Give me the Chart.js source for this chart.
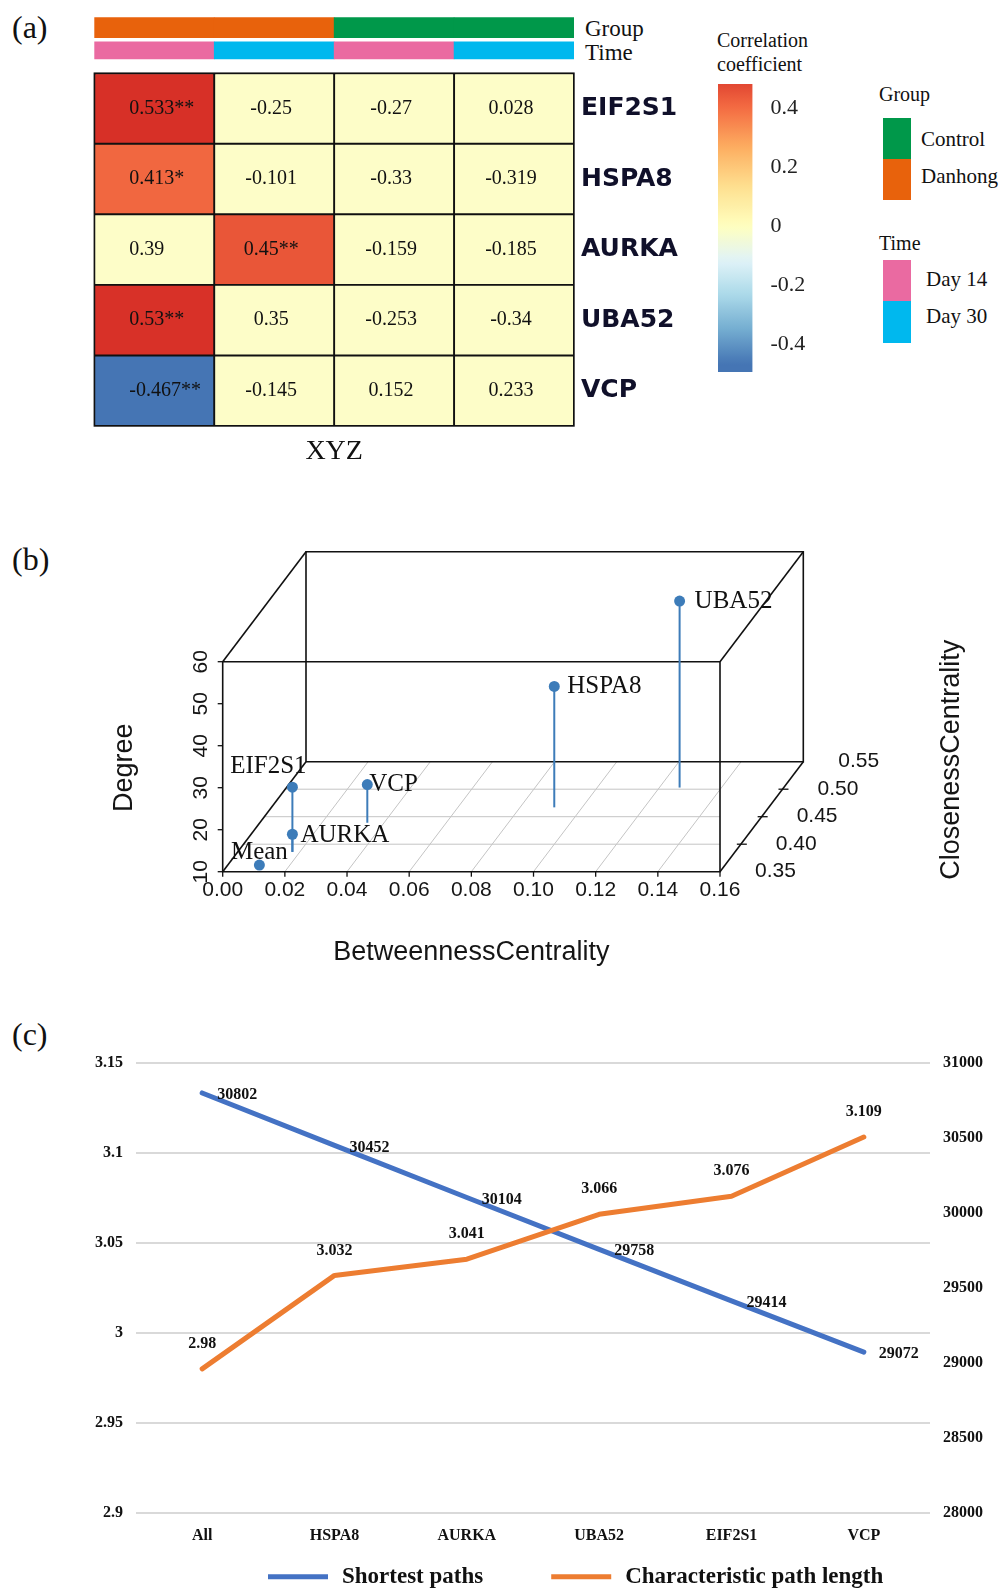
<!DOCTYPE html>
<html>
<head>
<meta charset="utf-8">
<title>Hub genes: correlation, centrality and path length</title>
<script src="https://cdn.jsdelivr.net/npm/chart.js@4.4.1/dist/chart.umd.min.js"></script>
<style>
  html, body { margin: 0; padding: 0; background: #fff; }
  #page { position: relative; width: 1002px; height: 1591px; overflow: hidden; }
  canvas { position: absolute; }
  .t { position: absolute; white-space: nowrap; line-height: 1; color: #111;
       font-family: "Liberation Serif", "Times New Roman", serif; transform: translateY(-50%); }
  .sw { position: absolute; }
</style>
</head>
<body>
<div id="page">
  <div class="t" style="left:12px;top:27px;font-size:32px">(a)</div>
  <div class="t" style="left:12px;top:559px;font-size:32px">(b)</div>
  <div class="t" style="left:12px;top:1034px;font-size:32px">(c)</div>

  <div class="t" style="left:585px;top:28px;font-size:23px">Group</div>
  <div class="t" style="left:585px;top:52px;font-size:23px">Time</div>

  <div class="t" style="left:717px;top:40px;font-size:20px">Correlation</div>
  <div class="t" style="left:717px;top:64px;font-size:20px">coefficient</div>

  <div class="t" style="left:879px;top:94px;font-size:20px">Group</div>
  <div class="sw" style="left:883px;top:118px;width:28px;height:41px;background:#00984a"></div>
  <div class="sw" style="left:883px;top:159px;width:28px;height:41px;background:#e8620c"></div>
  <div class="t" style="left:921px;top:139px;font-size:21px">Control</div>
  <div class="t" style="left:921px;top:176px;font-size:21px">Danhong</div>
  <div class="t" style="left:879px;top:243px;font-size:20px">Time</div>
  <div class="sw" style="left:883px;top:260px;width:28px;height:41px;background:#ea6aa1"></div>
  <div class="sw" style="left:883px;top:301px;width:28px;height:42px;background:#00b8ee"></div>
  <div class="t" style="left:926px;top:279px;font-size:21px">Day 14</div>
  <div class="t" style="left:926px;top:316px;font-size:21px">Day 30</div>

  <canvas id="heat" width="700" height="470" style="left:0;top:0"></canvas>
  <canvas id="cbar" width="110" height="320" style="left:700px;top:70px"></canvas>
  <canvas id="net3d" width="1002" height="440" style="left:0;top:530px"></canvas>
  <canvas id="paths" width="1002" height="561" style="left:0;top:1030px"></canvas>
</div>

<script>
// ---------- data ----------
// (a) correlation of hub genes with XYZ, per group x time column
const hmGenes = ['EIF2S1', 'HSPA8', 'AURKA', 'UBA52', 'VCP'];
const hmGroup = ['Danhong', 'Danhong', 'Control', 'Control'];
const hmTime = ['Day 14', 'Day 30', 'Day 14', 'Day 30'];
const hmCorr = [
  [0.533, -0.25, -0.27, 0.028],
  [0.413, -0.101, -0.33, -0.319],
  [0.39, 0.45, -0.159, -0.185],
  [0.53, 0.35, -0.253, -0.34],
  [-0.467, -0.145, 0.152, 0.233]
];
const hmStars = [
  ['**', '', '', ''],
  ['*', '', '', ''],
  ['', '**', '', ''],
  ['**', '', '', ''],
  ['**', '', '', '']
];
const cbTicks = [0.4, 0.2, 0, -0.2, -0.4];

// (b) network centrality
const netGenes = ['Mean', 'EIF2S1', 'AURKA', 'VCP', 'HSPA8', 'UBA52'];
const netBetween = [0.011, 0.0176, 0.0176, 0.0346, 0.091, 0.1265];
const netClose = [0.356, 0.386, 0.386, 0.439, 0.467, 0.503];
const netDegree = [10.8, 25.4, 14.2, 19.1, 38.8, 54.4];
const betweenTicks = [0, 0.02, 0.04, 0.06, 0.08, 0.10, 0.12, 0.14, 0.16];
const closeTicks = [0.35, 0.40, 0.45, 0.50, 0.55];
const degreeTicks = [10, 20, 30, 40, 50, 60];

// (c) shortest paths / characteristic path length after removing each gene
const pathCats = ['All', 'HSPA8', 'AURKA', 'UBA52', 'EIF2S1', 'VCP'];
const shortestPaths = [30802, 30452, 30104, 29758, 29414, 29072];
const charPathLen = [2.98, 3.032, 3.041, 3.066, 3.076, 3.109];
const leftTicks = [2.9, 2.95, 3, 3.05, 3.1, 3.15];
const rightTicks = [28000, 28500, 29000, 29500, 30000, 30500, 31000];

// ---------- styles ----------
const SERIF = '"Liberation Serif", "Times New Roman", serif';
const SANS = '"Liberation Sans", Arial, sans-serif';
Chart.defaults.color = '#111';
Chart.defaults.animation = false;

const groupColors = { Danhong: '#e8620c', Control: '#00984a' };
const timeColors = { 'Day 14': '#ea6aa1', 'Day 30': '#00b8ee' };
const PALE = '#fdfdc8';
const rdylbu = ['#4575b4', '#74add1', '#abd9e9', '#e0f3f8', '#ffffbf', '#fee090', '#fdae61', '#f46d43', '#d73027'];

function hex2rgb(h) { return [1, 3, 5].map(i => parseInt(h.substr(i, 2), 16)); }
function mix(a, b, f) {
  const A = hex2rgb(a), B = hex2rgb(b);
  return 'rgb(' + A.map((v, i) => Math.round(v + (B[i] - v) * f)).join(',') + ')';
}
const allCorr = hmCorr.flat();
const corrMin = Math.min(...allCorr), corrMax = Math.max(...allCorr);
function corrColor(v) {
  // zero in the middle, each half stretched to the data extreme
  const p = v >= 0 ? 0.5 + 0.5 * Math.min(v / corrMax, 1) : 0.5 - 0.5 * Math.min(v / corrMin, 1);
  const f = p * (rdylbu.length - 1);
  const i = Math.min(Math.floor(f), rdylbu.length - 2);
  return mix(rdylbu[i], rdylbu[i + 1], f - i);
}
// keep the chart area where the layout padding puts it
const noEdgePad = s => { s.paddingTop = 0; s.paddingBottom = 0; };

// ===== (a) HEATMAP =====
const GROUP_BAND = [-0.793, -0.503];   // annotation strips above the rows (row units)
const TIME_BAND = [-0.445, -0.201];

const cellText = {
  id: 'cellText',
  afterDatasetsDraw(chart) {
    const ctx = chart.ctx;
    ctx.save();
    ctx.font = '20px ' + SERIF;
    ctx.fillStyle = '#111';
    ctx.textBaseline = 'middle';
    hmGenes.forEach((g, r) => {
      chart.getDatasetMeta(r + 2).data.forEach((bar, c) => {
        const txt = String(hmCorr[r][c]) + hmStars[r][c];
        const y = (bar.y + bar.base) / 2;
        if (c === 0) { ctx.textAlign = 'left'; ctx.fillText(txt, bar.x - bar.width / 2 + 35, y); }
        else { ctx.textAlign = 'center'; ctx.fillText(txt, bar.x - 3, y); }
      });
    });
    // outer frame
    const top = chart.getDatasetMeta(2).data[0], bot = chart.getDatasetMeta(hmGenes.length + 1).data[0];
    const a = chart.chartArea;
    ctx.lineWidth = 1.4;
    ctx.strokeStyle = '#111';
    ctx.strokeRect(a.left, Math.min(top.y, top.base), a.right - a.left, Math.max(bot.y, bot.base) - Math.min(top.y, top.base));
    ctx.restore();
  }
};

new Chart(document.getElementById('heat'), {
  type: 'bar',
  data: {
    labels: hmGroup.map((g, i) => g + ' ' + hmTime[i]),
    datasets: [
      { label: 'Group', data: hmGroup.map(() => GROUP_BAND), backgroundColor: hmGroup.map(g => groupColors[g]), borderWidth: 0 },
      { label: 'Time', data: hmTime.map(() => TIME_BAND), backgroundColor: hmTime.map(t => timeColors[t]), borderWidth: 0 },
      ...hmGenes.map((g, r) => ({
        label: g,
        data: hmCorr[r].map(() => [r, r + 1]),
        backgroundColor: hmCorr[r].map((v, c) => hmStars[r][c] ? corrColor(v) : PALE),
        borderColor: '#111', borderWidth: 1.3, borderSkipped: false
      }))
    ]
  },
  options: {
    responsive: false, devicePixelRatio: 1,
    datasets: { bar: { grouped: false, barPercentage: 1, categoryPercentage: 1 } },
    layout: { padding: { left: 94.3, top: 17.2, right: 0, bottom: 0 } },
    plugins: { legend: { display: false }, tooltip: { enabled: false } },
    scales: {
      x: {
        grid: { display: false }, border: { display: false }, ticks: { display: false },
        title: { display: true, text: 'XYZ', font: { family: SERIF, size: 28 }, color: '#111', padding: { top: 0, bottom: 2 } },
        afterFit: s => { s.height = 44; s.paddingLeft = 0; s.paddingRight = 0; }
      },
      y: {
        type: 'linear', min: GROUP_BAND[0], max: hmGenes.length, reverse: true, position: 'right',
        grid: { display: false, drawTicks: false }, border: { display: false },
        afterBuildTicks: s => { s.ticks = hmGenes.map((g, i) => ({ value: i + 0.5 })); },
        ticks: { autoSkip: false, padding: 7, color: '#10102a', font: { family: '"DejaVu Sans", sans-serif', size: 25, weight: 'bold' },
                 callback: (v, i) => hmGenes[i] },
        afterFit: s => { s.width = 126; noEdgePad(s); }
      }
    }
  },
  plugins: [cellText]
});

// ===== (a) COLOUR BAR =====
const CB_RANGE = [-0.495, 0.483];
new Chart(document.getElementById('cbar'), {
  type: 'bar',
  data: {
    labels: ['r'],
    datasets: [{
      data: [CB_RANGE],
      borderWidth: 0,
      backgroundColor: ctx => {
        const chart = ctx.chart;
        if (!chart.chartArea) return PALE;
        const ys = chart.scales.y;
        const g = chart.ctx.createLinearGradient(0, ys.getPixelForValue(CB_RANGE[0]), 0, ys.getPixelForValue(CB_RANGE[1]));
        for (let k = 0; k <= 40; k++) {
          g.addColorStop(k / 40, corrColor(CB_RANGE[0] + (CB_RANGE[1] - CB_RANGE[0]) * k / 40));
        }
        return g;
      }
    }]
  },
  options: {
    responsive: false, devicePixelRatio: 1,
    datasets: { bar: { barPercentage: 1, categoryPercentage: 1 } },
    layout: { padding: { left: 18, top: 14, bottom: 18, right: 0 } },
    plugins: { legend: { display: false }, tooltip: { enabled: false } },
    scales: {
      x: { display: false },
      y: {
        min: CB_RANGE[0], max: CB_RANGE[1], position: 'right',
        grid: { display: false, drawTicks: false }, border: { display: false },
        afterBuildTicks: s => { s.ticks = cbTicks.map(v => ({ value: v })); },
        ticks: { padding: 18, color: '#222', font: { family: SERIF, size: 22 }, callback: v => String(+v.toFixed(1)) },
        afterFit: s => { s.width = 57.5; noEdgePad(s); }
      }
    }
  }
});

// ===== (b) 3-D SCATTER (oblique projection) =====
const KX = 0.1675, KY = 0.5238;   // depth shift of the closeness axis, in box units
const bLo = betweenTicks[0], bHi = betweenTicks[betweenTicks.length - 1];
const cLo = closeTicks[0], cHi = closeTicks[closeTicks.length - 1];
const dLo = degreeTicks[0], dHi = degreeTicks[degreeTicks.length - 1];
function proj(b, c, d) {
  const t = (c - cLo) / (cHi - cLo);
  return { x: (b - bLo) / (bHi - bLo) + t * KX, y: (d - dLo) / (dHi - dLo) + t * KY };
}
const STEEL = '#3d7cb9';
const labelPos = {   // name label offset from its point
  Mean: { dx: 0, dy: -13, align: 'center' },
  EIF2S1: { dx: -24, dy: -21, align: 'center' },
  AURKA: { dx: 8, dy: 1, align: 'left' },
  VCP: { dx: 2, dy: 0, align: 'left' },
  HSPA8: { dx: 13, dy: 0, align: 'left' },
  UBA52: { dx: 15, dy: 0, align: 'left' }
};

const box3d = {
  id: 'box3d',
  beforeDatasetsDraw(chart) {
    const ctx = chart.ctx, xs = chart.scales.x, ys = chart.scales.y;
    const P = (b, c, d) => { const p = proj(b, c, d); return [xs.getPixelForValue(p.x), ys.getPixelForValue(p.y)]; };
    const line = (a, b) => { ctx.beginPath(); ctx.moveTo(a[0], a[1]); ctx.lineTo(b[0], b[1]); ctx.stroke(); };
    ctx.save();
    // floor grid
    ctx.strokeStyle = '#c4c4c4'; ctx.lineWidth = 1;
    closeTicks.slice(1, -1).forEach(c => {
      const a = P(bLo, c, dLo);
      line(a, [P(bHi, cLo, dLo)[0], a[1]]);
    });
    betweenTicks.slice(1, -1).forEach(b => line(P(b, cLo, dLo), P(b, cHi, dLo)));
    // box
    ctx.strokeStyle = '#111'; ctx.lineWidth = 1.6;
    [cLo, cHi].forEach(c => {
      const q = [P(bLo, c, dLo), P(bHi, c, dLo), P(bHi, c, dHi), P(bLo, c, dHi)];
      ctx.beginPath(); ctx.moveTo(...q[0]); q.slice(1).forEach(p => ctx.lineTo(...p)); ctx.closePath(); ctx.stroke();
    });
    [[bLo, dLo], [bHi, dLo], [bHi, dHi], [bLo, dHi]].forEach(([b, d]) => line(P(b, cLo, d), P(b, cHi, d)));
    // tick marks
    ctx.lineWidth = 1.3;
    betweenTicks.forEach(b => { const p = P(b, cLo, dLo); line(p, [p[0], p[1] + 5]); });
    degreeTicks.forEach(d => { const p = P(bLo, cLo, d); line(p, [p[0] - 5, p[1]]); });
    closeTicks.slice(1, -1).forEach(c => { const p = P(bHi, c, dLo); line([p[0] - 4, p[1]], [p[0] + 6, p[1]]); });
    ctx.restore();
  },
  afterDatasetsDraw(chart) {
    const ctx = chart.ctx, xs = chart.scales.x, ys = chart.scales.y;
    const P = (b, c, d) => { const p = proj(b, c, d); return [xs.getPixelForValue(p.x), ys.getPixelForValue(p.y)]; };
    ctx.save();
    ctx.fillStyle = '#151515';
    ctx.font = '21px ' + SANS;
    ctx.textAlign = 'center'; ctx.textBaseline = 'middle';
    betweenTicks.forEach(b => { const p = P(b, cLo, dLo); ctx.fillText(b.toFixed(2), p[0], p[1] + 19); });
    ctx.textAlign = 'left';
    closeTicks.forEach(c => { const p = P(bHi, c, dLo); ctx.fillText(c.toFixed(2), p[0] + 35, p[1]); });
    ctx.textAlign = 'center';
    degreeTicks.forEach(d => {
      const p = P(bLo, cLo, d);
      ctx.save(); ctx.translate(p[0] - 21, p[1]); ctx.rotate(-Math.PI / 2); ctx.fillText(String(d), 0, 0); ctx.restore();
    });
    // axis titles
    const a = chart.chartArea;
    const f0 = P(bLo, cLo, dLo), f1 = P(bHi, cLo, dLo), ft = P(bLo, cLo, dHi);
    ctx.font = '27px ' + SANS;
    ctx.fillText('BetweennessCentrality', (f0[0] + f1[0]) / 2, f0[1] + 81);
    ctx.save(); ctx.translate(f0[0] - 98, (f0[1] + ft[1]) / 2 + 1); ctx.rotate(-Math.PI / 2); ctx.fillText('Degree', 0, 0); ctx.restore();
    ctx.save(); ctx.translate(a.right + 148, f0[1] - 112); ctx.rotate(-Math.PI / 2); ctx.fillText('ClosenessCentrality', 0, 0); ctx.restore();
    // point names
    ctx.font = '25px ' + SERIF;
    ctx.fillStyle = '#111';
    chart.getDatasetMeta(0).data.forEach((pt, i) => {
      const lp = labelPos[netGenes[i]];
      ctx.textAlign = lp.align;
      ctx.fillText(netGenes[i], pt.x + lp.dx, pt.y + lp.dy);
    });
    ctx.restore();
  }
};

new Chart(document.getElementById('net3d'), {
  type: 'scatter',
  data: {
    datasets: [
      { label: 'genes', data: netGenes.map((g, i) => proj(netBetween[i], netClose[i], netDegree[i])),
        pointRadius: 5.5, pointBackgroundColor: STEEL, pointBorderWidth: 0, clip: false },
      ...netGenes.map((g, i) => ({
        label: g + ' stem',
        data: [proj(netBetween[i], netClose[i], dLo), proj(netBetween[i], netClose[i], netDegree[i])],
        showLine: true, pointRadius: 0, borderColor: STEEL, borderWidth: 2, clip: false
      }))
    ]
  },
  options: {
    responsive: false, devicePixelRatio: 1,
    layout: { padding: { left: 222.7, right: 198.7, top: 21.7, bottom: 98.3 } },
    plugins: { legend: { display: false }, tooltip: { enabled: false } },
    scales: {
      x: { type: 'linear', min: 0, max: 1 + KX, display: false },
      y: { type: 'linear', min: 0, max: 1 + KY, display: false }
    }
  },
  plugins: [box3d]
});

// ===== (c) LINE CHART, two y axes =====
const BLUE = '#4472c4', ORANGE = '#ed7d31';
const pointLabelStyle = [
  { align: 'left', dx: 15, dy: 2 },      // Shortest paths
  { align: 'center', dx: 0, dy: -25 }    // Characteristic path length
];
const valueLabels = {
  id: 'valueLabels',
  afterDatasetsDraw(chart) {
    const ctx = chart.ctx;
    ctx.save();
    ctx.font = 'bold 16px ' + SERIF;
    ctx.fillStyle = '#111';
    ctx.textBaseline = 'middle';
    chart.data.datasets.forEach((ds, di) => {
      const st = pointLabelStyle[di];
      ctx.textAlign = st.align;
      chart.getDatasetMeta(di).data.forEach((pt, i) => ctx.fillText(String(ds.data[i]), pt.x + st.dx, pt.y + st.dy));
    });
    // legend: line swatch + name, flowed from the left
    let x = 268;
    const y = chart.chartArea.bottom + 64;
    ctx.font = 'bold 23px ' + SERIF;
    ctx.textAlign = 'left';
    chart.data.datasets.forEach(ds => {
      ctx.strokeStyle = ds.borderColor; ctx.lineWidth = 5;
      ctx.beginPath(); ctx.moveTo(x, y); ctx.lineTo(x + 60, y); ctx.stroke();
      ctx.fillText(ds.label, x + 74, y);
      x += 74 + ctx.measureText(ds.label).width + 68;
    });
    ctx.restore();
  }
};

new Chart(document.getElementById('paths'), {
  type: 'line',
  data: {
    labels: pathCats,
    datasets: [
      { label: 'Shortest paths', data: shortestPaths, yAxisID: 'y1', borderColor: BLUE, order: 1 },
      { label: 'Characteristic path length', data: charPathLen, yAxisID: 'y', borderColor: ORANGE, order: 0 }
    ]
  },
  options: {
    responsive: false, devicePixelRatio: 1,
    elements: {
      line: { borderWidth: 5, tension: 0, borderCapStyle: 'round', borderJoinStyle: 'round', fill: false },
      point: { radius: 0 }
    },
    layout: { padding: { top: 33.3, left: 0, right: 0, bottom: 0 } },
    plugins: { legend: { display: false }, tooltip: { enabled: false } },
    scales: {
      x: {
        offset: true,
        grid: { display: false, drawTicks: false, offset: true }, border: { display: false },
        ticks: { padding: 14, color: '#111', font: { family: SERIF, size: 16, weight: 'bold' } },
        afterFit: s => { s.height = 78.3; s.paddingLeft = 0; s.paddingRight = 0; }
      },
      y: {
        position: 'left', min: leftTicks[0], max: leftTicks[leftTicks.length - 1],
        grid: { color: '#d9d9d9', lineWidth: 2, drawTicks: false }, border: { display: false },
        afterBuildTicks: s => { s.ticks = leftTicks.map(v => ({ value: v })); },
        ticks: { padding: 13, color: '#111', font: { family: SERIF, size: 16, weight: 'bold' }, callback: v => String(+v.toFixed(2)) },
        afterFit: s => { s.width = 136; noEdgePad(s); }
      },
      y1: {
        position: 'right', min: rightTicks[0], max: rightTicks[rightTicks.length - 1],
        grid: { display: false, drawTicks: false }, border: { display: false },
        afterBuildTicks: s => { s.ticks = rightTicks.map(v => ({ value: v })); },
        ticks: { padding: 13, color: '#111', font: { family: SERIF, size: 16, weight: 'bold' }, callback: v => String(v) },
        afterFit: s => { s.width = 72; noEdgePad(s); }
      }
    }
  },
  plugins: [valueLabels]
});
</script>
</body>
</html>
